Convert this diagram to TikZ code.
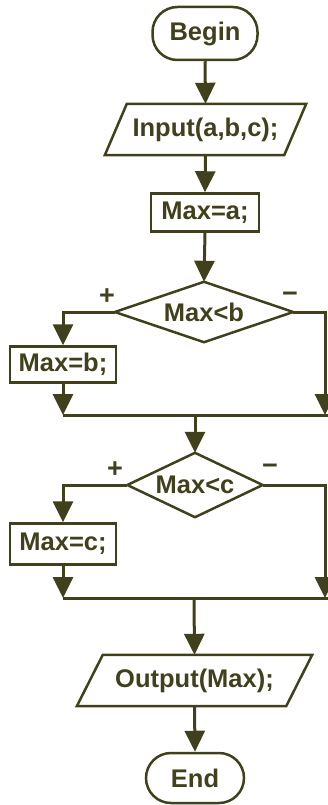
\documentclass[tikz,border=0pt]{standalone}
\usepackage{fontspec}
\setmainfont{Liberation Sans}
\usetikzlibrary{arrows.meta,calc}
\definecolor{olive}{RGB}{64,64,28}
\begin{document}
\begin{tikzpicture}[x=1pt,y=-1pt,
  every node/.style={text=olive,font=\bfseries\fontsize{25.5}{30}\selectfont,inner sep=0pt},
  term/.style={draw=olive,line width=2.5pt,rounded corners=25pt},
  proc/.style={draw=olive,line width=2.5pt},
  plain/.style={draw=none},
  shp/.style={draw=olive,line width=2.5pt,line join=miter},
  conn/.style={draw=olive,line width=3pt},
  arr/.style={conn,-{Triangle[length=21pt,width=20pt]}},
  sign/.style={font=\bfseries\fontsize{27}{30}\selectfont}
]
\useasboundingbox (0,0) rectangle (328,805);
% nodes
\node[term,minimum width=105pt,minimum height=53pt] (begin) at (205,33.5) {Begin};
\node[plain,minimum width=179pt,minimum height=51pt] (in) at (205.5,129.5) {Input(a,b,c);};
\node[proc,minimum width=108pt,minimum height=38pt] (ma) at (205,212.5) {Max=a;};
\node[plain,minimum width=178pt,minimum height=60pt] (d1) at (204,312) {Max<b};
\node[proc,minimum width=106pt,minimum height=36pt] (mb) at (63,364.5) {Max=b;};
\node[plain,minimum width=135pt,minimum height=64pt] (d2) at (195,485) {Max<c};
\node[proc,minimum width=106pt,minimum height=41pt] (mc) at (63,544) {Max=c;};
\node[plain,minimum width=209pt,minimum height=51pt] (out) at (194.5,680.5) {Output(Max);};
\node[term,minimum width=98pt,minimum height=50pt] (end) at (195,778) {End};
% sign labels
\node[sign] (p1) at (107,297) {+};
\node[sign] (n1) at (290,297) {−};
\node[sign] (p2) at (115,470) {+};
\node[sign] (n2) at (270,469) {−};
% shapes drawn around plain nodes
\draw[shp] ($(in.north west)+(11,0)$) -- ($(in.north east)+(11,0)$) -- ($(in.south east)-(11,0)$) -- ($(in.south west)-(11,0)$) -- cycle;
\draw[shp] ($(out.north west)+(13,0)$) -- ($(out.north east)+(13,0)$) -- ($(out.south east)-(13,0)$) -- ($(out.south west)-(13,0)$) -- cycle;
\draw[shp] (d1.north) -- (d1.east) -- (d1.south) -- (d1.west) -- cycle;
\draw[shp] (d2.north) -- (d2.east) -- (d2.south) -- (d2.west) -- cycle;
% merge coordinates
\coordinate (m1l) at (63,415);
\coordinate (m1c) at (195,415);
\coordinate (m1r) at (325,415);
\coordinate (m1e) at (328,415);
\coordinate (m2l) at (63,598);
\coordinate (m2c) at (194,598);
\coordinate (m2r) at (325,598);
\coordinate (m2e) at (328,598);
% connectors
\draw[arr] (begin.south) -- (in.north);
\draw[arr] (in.south) -- (ma.north);
\draw[arr] (ma.south) -- (d1.north);
\draw[arr] (d1.west) -| (mb.north);
\draw[arr] (d1.east) -| (m1r);
\draw[arr] (mb.south) -- (m1l);
\draw[conn] (m1l) -- (m1e);
\draw[arr] (m1c) -- (d2.north);
\draw[arr] (d2.west) -| (mc.north);
\draw[arr] (d2.east) -| (m2r);
\draw[arr] (mc.south) -- (m2l);
\draw[conn] (m2l) -- (m2e);
\draw[arr] (m2c) -- (out.north);
\draw[arr] (out.south) -- (end.north);
\end{tikzpicture}
\end{document}
